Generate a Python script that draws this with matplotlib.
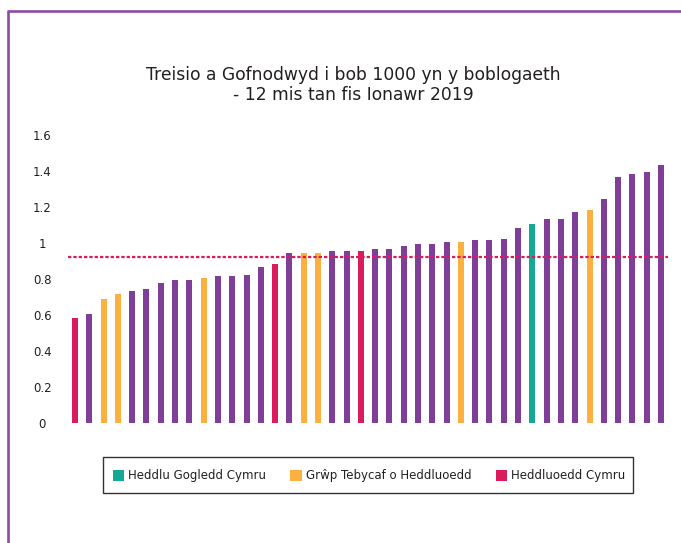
import matplotlib
matplotlib.use("Agg")
import matplotlib.pyplot as plt
from matplotlib.patches import Patch, Rectangle
from matplotlib.lines import Line2D

# ---- data ----
values = [0.586, 0.608, 0.69, 0.714, 0.736, 0.742, 0.78, 0.797, 0.797, 0.808,
          0.819, 0.819, 0.825, 0.869, 0.881, 0.942, 0.942, 0.942, 0.953, 0.953,
          0.958, 0.964, 0.969, 0.981, 0.992, 0.992, 1.003, 1.008, 1.014, 1.014,
          1.025, 1.086, 1.108, 1.131, 1.131, 1.175, 1.186, 1.242, 1.364, 1.386,
          1.397, 1.436]
groups = ["W", "O", "S", "S", "O", "O", "O", "O", "O", "S",
          "O", "O", "O", "O", "W", "O", "S", "S", "O", "O",
          "W", "O", "O", "O", "O", "O", "O", "S", "O", "O",
          "O", "O", "N", "O", "O", "O", "S", "O", "O", "O",
          "O", "O"]
average = 0.921
yticks = [0, 0.2, 0.4, 0.6, 0.8, 1.0, 1.2, 1.4, 1.6]
ytick_labels = ["0", "0.2", "0.4", "0.6", "0.8", "1", "1.2", "1.4", "1.6"]
title_lines = ["Treisio a Gofnodwyd i bob 1000 yn y boblogaeth",
               "- 12 mis tan fis Ionawr 2019"]
legend_labels = ["Heddlu Gogledd Cymru", "Grŵp Tebycaf o Heddluoedd", "Heddluoedd Cymru"]

colors = {"O": "#7F3F98", "S": "#FBB040", "W": "#DA1C5C", "N": "#16A896"}
TEXT = "#231F20"

W, H = 681, 543
fig = plt.figure(figsize=(W / 100, H / 100), dpi=100)
plt.rcParams["font.family"] = ["DejaVu Sans"]

# frame lines (purple)
fig.add_artist(Line2D([8 / W, 8 / W], [0, 1 - 11 / H], transform=fig.transFigure,
                      color="#8E4BA6", lw=1.9, solid_capstyle="butt"))
fig.add_artist(Line2D([7 / W, 1], [1 - 11 / H, 1 - 11 / H], transform=fig.transFigure,
                      color="#8E4BA6", lw=1.9, solid_capstyle="butt"))

ax_left, ax_right = 67.9, 668.1
ax_bottom, ax_top = 423.0, 117.0
ax = fig.add_axes([ax_left / W, 1 - ax_bottom / H, (ax_right - ax_left) / W,
                   (ax_bottom - ax_top) / H])

x = list(range(len(values)))
ax.bar(x, values, width=0.42, color=[colors[g] for g in groups], zorder=2)
ax.axhline(average, color="#DA1C5C", lw=1.6, dashes=(1.5, 0.9), zorder=3)

ax.set_xlim(-0.5, len(values) - 0.5)
ax.set_ylim(0, 1.7)
ax.set_yticks(yticks)
ax.set_yticklabels(ytick_labels, fontsize=8.5, color=TEXT)
for lab in ax.get_yticklabels():
    lab.set_horizontalalignment("center")
    lab.set_verticalalignment("center_baseline")
ax.tick_params(axis="y", length=0, pad=18.6)
ax.set_xticks([])
for s in ax.spines.values():
    s.set_visible(False)

fig.text(353 / W, 1 - 80 / H, title_lines[0], ha="center", va="baseline",
         fontsize=12.3, color=TEXT)
fig.text(353.5 / W, 1 - 100 / H, title_lines[1], ha="center", va="baseline",
         fontsize=12.3, color=TEXT)

# legend frame drawn separately
fig.add_artist(Rectangle((103.5 / W, 1 - 493 / H), (632.5 - 103.5) / W, 36 / H,
                         transform=fig.transFigure, fill=False,
                         edgecolor="#333333", lw=1.0))
handles = [Patch(facecolor=colors["N"]), Patch(facecolor=colors["S"]),
           Patch(facecolor=colors["W"])]
leg = fig.legend(handles, legend_labels, ncol=3, loc="center",
                 bbox_to_anchor=(369 / W, 1 - 476 / H), fontsize=8.5,
                 frameon=False, handlelength=0.95, handleheight=0.95,
                 handletextpad=0.35, columnspacing=2.05, borderpad=0.0)
for t in leg.get_texts():
    t.set_color(TEXT)

fig.savefig("out.png", dpi=100)
